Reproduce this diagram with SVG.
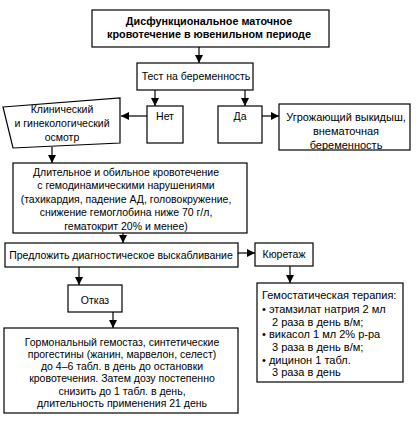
<svg xmlns="http://www.w3.org/2000/svg" width="419" height="421" viewBox="0 0 419 421">
<defs>
<style>
.box{fill:#fff;stroke:#000;stroke-width:1.2}
.t{font-family:"Liberation Sans",Arial,sans-serif;font-size:10.5px;fill:#000}
.l{font-size:11px}
.c{text-anchor:middle}
.b{font-weight:bold;font-size:10.8px}
.ln{stroke:#000;stroke-width:1.2;fill:none}
</style>
<marker id="ah" markerUnits="userSpaceOnUse" markerWidth="8" markerHeight="9" viewBox="0 0 10 10" refX="10" refY="5" orient="auto">
<path d="M0,0 L10,5 L0,10 z" fill="#000"/>
</marker>
</defs>
<rect width="419" height="421" fill="#fff"/>
<g id="connectors">
<line class="ln" x1="199" y1="47" x2="199" y2="63" marker-end="url(#ah)"/>
<line class="ln" x1="155" y1="90" x2="155" y2="106" marker-end="url(#ah)"/>
<line class="ln" x1="245" y1="90" x2="245" y2="106" marker-end="url(#ah)"/>
<line class="ln" x1="147" y1="116" x2="121" y2="116" marker-end="url(#ah)"/>
<line class="ln" x1="262" y1="116" x2="279" y2="116" marker-end="url(#ah)"/>
<line class="ln" x1="52" y1="147" x2="52" y2="163" marker-end="url(#ah)"/>
<line class="ln" x1="123" y1="233" x2="123" y2="243" marker-end="url(#ah)"/>
<line class="ln" x1="238" y1="253" x2="255" y2="253" marker-end="url(#ah)"/>
<line class="ln" x1="290" y1="266" x2="290" y2="283" marker-end="url(#ah)"/>
<line class="ln" x1="79" y1="267" x2="79" y2="285" marker-end="url(#ah)"/>
<line class="ln" x1="113" y1="312" x2="113" y2="328" marker-end="url(#ah)"/>
</g>
<g id="n-top">
<rect class="box" x="92" y="10" width="237" height="37"/>
<text class="t c b" x="209" y="25">Дисфункциональное маточное</text>
<text class="t c b" x="209" y="38">кровотечение в ювенильном периоде</text>
</g>
<g id="n-test">
<rect class="box" x="137" y="63" width="116" height="27"/>
<text class="t c" x="196" y="80">Тест на беременность</text>
</g>
<g id="n-net">
<rect class="box" x="147" y="106" width="36" height="37"/>
<text class="t c" x="165" y="120">Нет</text>
</g>
<g id="n-da">
<rect class="box" x="218" y="106" width="44" height="37"/>
<text class="t c" x="240" y="120">Да</text>
</g>
<g id="n-threat">
<rect class="box" x="279" y="104" width="131" height="46"/>
<text class="t c l" x="346" y="121">Угрожающий выкидыш,</text>
<text class="t c l" x="346" y="135">внематочная</text>
<text class="t c l" x="346" y="149">беременность</text>
</g>
<g id="n-clin">
<polygon class="box" points="3,107 120,98 120,143 13,148"/>
<text class="t c" x="62" y="113">Клинический</text>
<text class="t c" x="62" y="127">и гинекологический</text>
<text class="t c" x="62" y="141">осмотр</text>
</g>
<g id="n-bleed">
<rect class="box" x="13" y="163" width="234" height="70"/>
<text class="t c" x="126" y="176">Длительное и обильное кровотечение</text>
<text class="t c" x="126" y="189">с гемодинамическими нарушениями</text>
<text class="t c" x="126" y="203">(тахикардия, падение АД, головокружение,</text>
<text class="t c" x="126" y="216">снижение гемоглобина ниже 70 г/л,</text>
<text class="t c" x="126" y="230">гематокрит 20% и менее)</text>
</g>
<g id="n-offer">
<rect class="box" x="5" y="243" width="233" height="24"/>
<text class="t c" x="121" y="259">Предложить диагностическое выскабливание</text>
</g>
<g id="n-cur">
<rect class="box" x="255" y="243" width="58" height="23"/>
<text class="t c" x="284" y="258">Кюретаж</text>
</g>
<g id="n-hemo">
<rect class="box" x="257" y="283" width="146" height="99"/>
<text class="t l" x="262" y="299">Гемостатическая терапия:</text>
<text class="t l" x="262" y="313">• этамзилат натрия 2 мл</text>
<text class="t l" x="272" y="326">2 раза в день в/м;</text>
<text class="t l" x="262" y="338">• викасол 1 мл 2% р-ра</text>
<text class="t l" x="272" y="351">3 раза в день в/м;</text>
<text class="t l" x="262" y="364">• дицинон 1 табл.</text>
<text class="t l" x="272" y="376">3 раза в день</text>
</g>
<g id="n-refuse">
<rect class="box" x="68" y="285" width="54" height="27"/>
<text class="t c" x="95" y="304">Отказ</text>
</g>
<g id="n-hormone">
<rect class="box" x="4" y="328" width="234" height="85"/>
<text class="t c" x="122" y="346">Гормональный гемостаз, синтетические</text>
<text class="t c" x="122" y="358">прогестины (жанин, марвелон, селест)</text>
<text class="t c" x="122" y="370">до 4–6 табл. в день до остановки</text>
<text class="t c" x="122" y="382">кровотечения. Затем дозу постепенно</text>
<text class="t c" x="122" y="395">снизить до 1 табл. в день,</text>
<text class="t c" x="122" y="407">длительность применения 21 день</text>
</g>
</svg>
